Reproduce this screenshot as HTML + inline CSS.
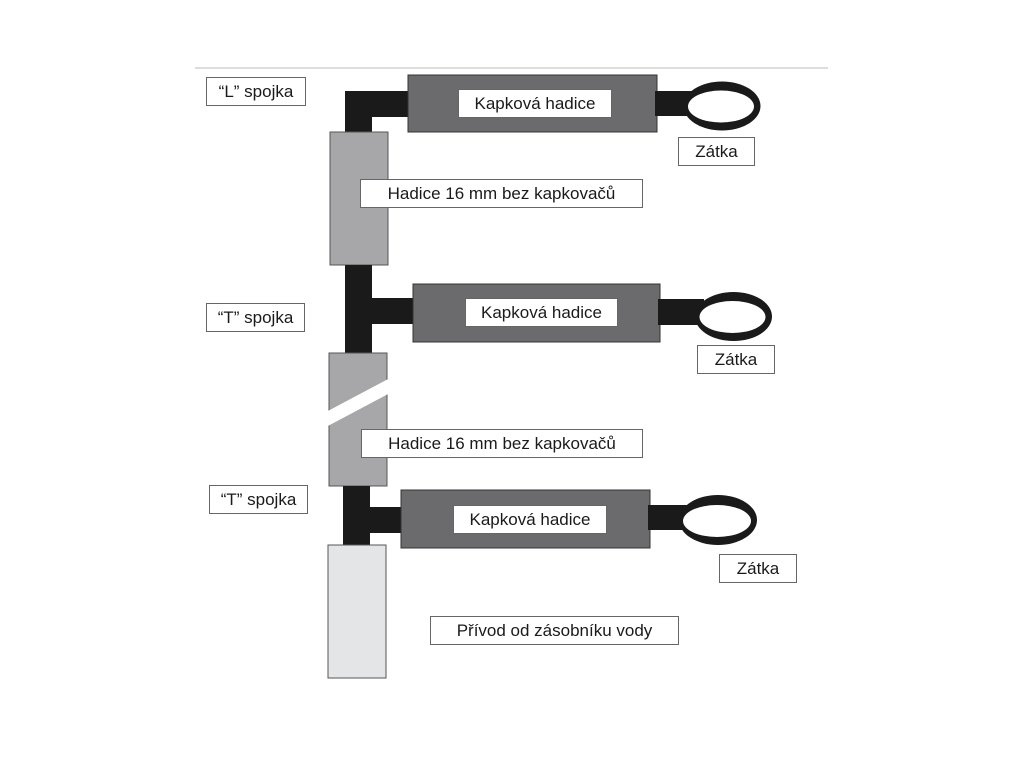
<!DOCTYPE html>
<html><head><meta charset="utf-8"><style>
html,body{margin:0;padding:0;background:#fff;width:1024px;height:768px;overflow:hidden}
.l{position:absolute;background:#fff;border:1px solid #666;font-family:"Liberation Sans",Arial,sans-serif;font-size:17px;color:#1a1a1a;line-height:27px;text-align:center;box-sizing:border-box}
</style></head><body>
<svg width="1024" height="768" style="position:absolute;left:0;top:0">
<line x1="195" y1="68" x2="828" y2="68" stroke="#ddd" stroke-width="2"/>
<!-- top L elbow -->
<rect x="345" y="91" width="70" height="26" fill="#1a1a1a"/>
<rect x="345" y="91" width="27" height="45" fill="#1a1a1a"/>
<rect x="408" y="75" width="249" height="57" fill="#6b6b6d" stroke="#333" stroke-width="1"/>
<rect x="655" y="91" width="40" height="25" fill="#1a1a1a"/>
<ellipse cx="722" cy="106" rx="38.5" ry="24.5" fill="#1a1a1a"/>
<ellipse cx="721" cy="106.5" rx="33" ry="16" fill="#fff"/>
<rect x="330" y="132" width="58" height="133" fill="#a7a7a9" stroke="#555" stroke-width="1"/>
<!-- T 1 -->
<rect x="345" y="265" width="27" height="90" fill="#1a1a1a"/>
<rect x="345" y="298" width="72" height="26" fill="#1a1a1a"/>
<rect x="413" y="284" width="247" height="58" fill="#6b6b6d" stroke="#333" stroke-width="1"/>
<rect x="658" y="299" width="46" height="26" fill="#1a1a1a"/>
<ellipse cx="733.5" cy="316.5" rx="38.5" ry="24.5" fill="#1a1a1a"/>
<ellipse cx="732.5" cy="317" rx="33" ry="16" fill="#fff"/>
<rect x="329" y="353" width="58" height="133" fill="#a7a7a9" stroke="#555" stroke-width="1"/>
<polygon points="326,412 390,378 390,393 326,427" fill="#fff"/>
<!-- T 2 -->
<rect x="343" y="486" width="27" height="60" fill="#1a1a1a"/>
<rect x="343" y="507" width="62" height="26" fill="#1a1a1a"/>
<rect x="401" y="490" width="249" height="58" fill="#6b6b6d" stroke="#333" stroke-width="1"/>
<rect x="648" y="505" width="44" height="25" fill="#1a1a1a"/>
<ellipse cx="718" cy="520" rx="39" ry="25" fill="#1a1a1a"/>
<ellipse cx="717" cy="521" rx="34" ry="16" fill="#fff"/>
<rect x="328" y="545" width="58" height="133" fill="#e4e5e7" stroke="#555" stroke-width="1"/>
</svg>
<div class="l" style="left:206px;top:77px;width:100px;height:29px">“L” spojka</div>
<div class="l" style="left:458px;top:89px;width:154px;height:29px">Kapková hadice</div>
<div class="l" style="left:678px;top:137px;width:77px;height:29px">Zátka</div>
<div class="l" style="left:360px;top:179px;width:283px;height:29px">Hadice 16 mm bez kapkovačů</div>
<div class="l" style="left:206px;top:303px;width:99px;height:29px">“T” spojka</div>
<div class="l" style="left:465px;top:298px;width:153px;height:29px">Kapková hadice</div>
<div class="l" style="left:697px;top:345px;width:78px;height:29px">Zátka</div>
<div class="l" style="left:361px;top:429px;width:282px;height:29px">Hadice 16 mm bez kapkovačů</div>
<div class="l" style="left:209px;top:485px;width:99px;height:29px">“T” spojka</div>
<div class="l" style="left:453px;top:505px;width:154px;height:29px">Kapková hadice</div>
<div class="l" style="left:719px;top:554px;width:78px;height:29px">Zátka</div>
<div class="l" style="left:430px;top:616px;width:249px;height:29px">Přívod od zásobníku vody</div>
</body></html>
